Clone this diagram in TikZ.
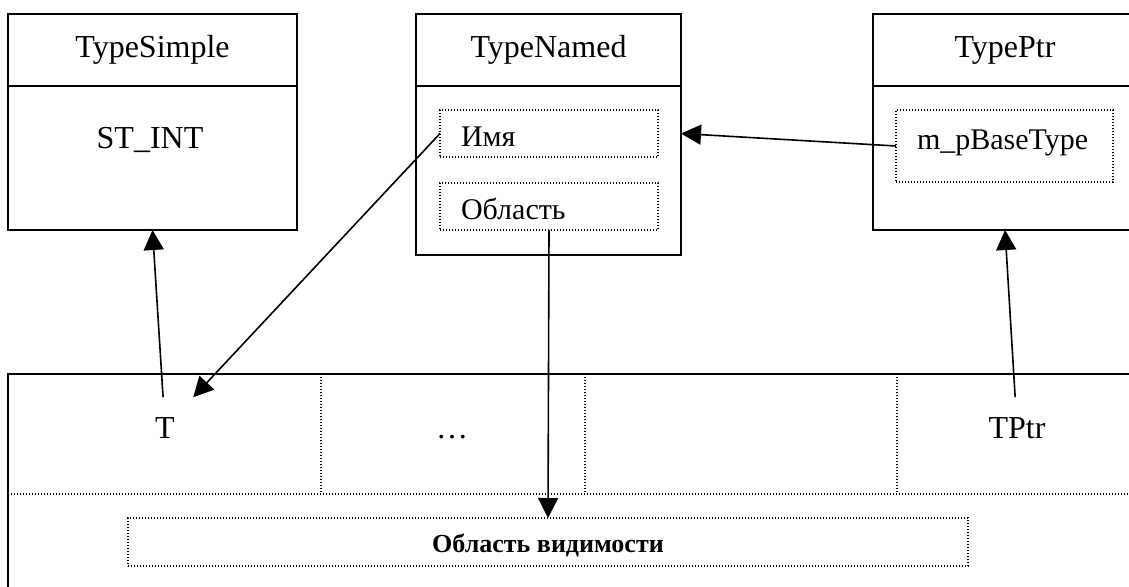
\documentclass[tikz,border=0pt]{standalone}
\usepackage{fontspec}
\setmainfont{Liberation Serif}
\usetikzlibrary{positioning,arrows.meta}

\tikzset{
  cls/.style={draw, line width=1.6pt, inner sep=0pt, outer sep=0pt, font=\fontsize{32}{36}\selectfont},
  hdr/.style={cls, minimum height=72pt},
  dotline/.style={draw, line width=1.3pt, dash pattern=on 1.3pt off 1.7pt},
  dots/.style={dotline, inner sep=0pt, outer sep=0pt, anchor=north west},
  cell/.style={inner sep=0pt, outer sep=0pt, anchor=north west, minimum height=120pt},
  fld/.style={dots, font=\fontsize{30}{34}\selectfont, text width=176pt, align=left, inner xsep=21pt, minimum height=47pt, text height=26pt, text depth=0pt},
  lbl/.style={inner sep=19pt, font=\fontsize{32}{36}\selectfont}
}

\begin{document}
\begin{tikzpicture}[x=1pt, y=-1pt, >={Triangle[length=20pt,width=20pt]}, line width=1.6pt]
  \useasboundingbox (0,0) rectangle (1129,586);
  \clip (0,0) rectangle (1129,586);

  % types
  \node[hdr, minimum width=289pt, anchor=north west] (simpleH) at (8,14) {TypeSimple};
  \node[cls, minimum width=289pt, minimum height=144pt, below=0pt of simpleH] (simpleB) {};
  \node[font=\fontsize{32}{36}\selectfont, anchor=base] (stint) at (150,148) {ST\_INT};

  \node[hdr, minimum width=265pt, anchor=north west] (namedH) at (416,14) {TypeNamed};
  \node[cls, minimum width=265pt, minimum height=169pt, below=0pt of namedH] (namedB) {};
  \node[fld] (imya) at (440,110) {Имя};
  \node[fld] (oblast) at (440,183) {Область};

  \node[hdr, minimum width=264pt, anchor=north west] (ptrH) at (873,14) {TypePtr};
  \node[cls, minimum width=264pt, minimum height=144pt, below=0pt of ptrH] (ptrB) {};
  \node[fld, text width=175pt, minimum height=72pt, text height=16pt, text depth=10pt] (mpb) at (896,110) {m\_pBaseType};

  % table
  \node[cell, minimum width=313pt] (cell1) at (8,374) {};
  \node[cell, minimum width=264pt, right=0pt of cell1] (cell2) {};
  \node[cell, minimum width=312pt, right=0pt of cell2] (cell3) {};
  \node[cell, minimum width=240pt, right=0pt of cell3] (cell4) {};
  \draw[dotline] (cell1.south west) -- (cell4.south east);
  \foreach \c in {cell1,cell2,cell3}
    \draw[dotline] (\c.north east) -- (\c.south east);
  \node[cls, minimum width=1129pt, minimum height=300pt, anchor=north west] (tbl) at (8,374) {};
  \node[lbl, anchor=base] (tT) at (165,438) {T};
  \node[lbl, anchor=base] (tdots) at (452,438) {…};
  \node[lbl, anchor=base] (tptr) at (1017,438) {TPtr};
  \node[dots, minimum width=840pt, minimum height=48pt, font=\fontsize{26}{30}\selectfont\bfseries, text height=20pt, text depth=0pt] (vis) at (128,518) {Область видимости};

  \draw[->] (tT) -- (simpleB.south);
  \draw[->] (imya.west) -- (tT);
  \draw[->] (oblast.south) -- (vis.north);
  \draw[->] (mpb.west) -- (namedB.east |- imya.east);
  \draw[->] (tptr) -- (ptrB.south);
\end{tikzpicture}
\end{document}
